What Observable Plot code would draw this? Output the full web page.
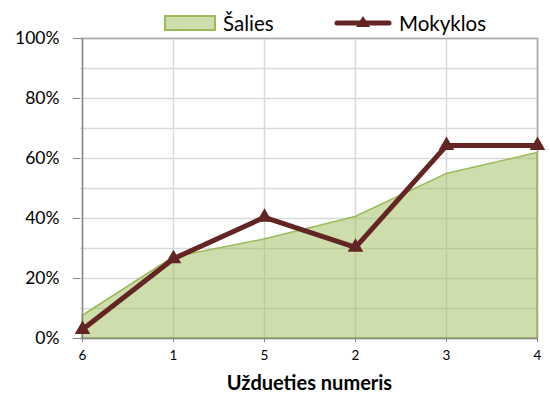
<!DOCTYPE html>
<html>
<head>
<meta charset="utf-8">
<script src="https://cdn.jsdelivr.net/npm/d3@7"></script>
<script src="https://cdn.jsdelivr.net/npm/@observablehq/plot@0.6"></script>
<style>
  html, body { margin: 0; padding: 0; background: #fff; }
  body { position: relative; width: 550px; height: 401px; overflow: hidden; font-family: Lato, "Open Sans", sans-serif; }
  #legend { position: absolute; left: 0; top: 8px; width: 550px; height: 30px; font-size: 20.5px; color: #000; z-index: 2; }
  #legend .item { position: absolute; top: 0; height: 30px; display: flex; align-items: center; }
  #legend svg { display: block; margin-right: 7px; }
  #chart { position: absolute; left: 0; top: 0; }
</style>
</head>
<body>
<div id="chart"></div>
<div id="legend"></div>
<script>
const tasks = ["6", "1", "5", "2", "3", "4"];
const salies = [0.075, 0.27, 0.33, 0.405, 0.548, 0.618];
const mokyklos = [0.03, 0.266, 0.404, 0.304, 0.643, 0.643];
const seriesNames = ["Šalies", "Mokyklos"];
const yTicks = [0, 0.2, 0.4, 0.6, 0.8, 1];
const yGrid = [0, 0.1, 0.2, 0.3, 0.4, 0.5, 0.6, 0.7, 0.8, 0.9, 1];
const xTitle = "Uždueties numeris";

const green = "#9bbb59";
const maroon = "#632523";

const data = tasks.map((t, i) => ({task: t, salies: salies[i], mokyklos: mokyklos[i]}));

// Legend (HTML)
const legend = document.getElementById("legend");
const it1 = document.createElement("div");
it1.className = "item"; it1.style.left = "164px";
it1.innerHTML = `<svg width="52" height="16"><rect x="1" y="1" width="50" height="14" fill="#cfdfac" stroke="${green}" stroke-width="2"/></svg><span>${seriesNames[0]}</span>`;
const it2 = document.createElement("div");
it2.className = "item"; it2.style.left = "334px";
it2.innerHTML = `<svg width="58" height="16"><line x1="3" x2="55" y1="8" y2="8" stroke="${maroon}" stroke-width="5" stroke-linecap="round"/><path d="M29,1 L36,12 L22,12 Z" fill="${maroon}"/></svg><span>${seriesNames[1]}</span>`;
legend.append(it1, it2);

const chart = Plot.plot({
  width: 550,
  height: 401,
  marginLeft: 80,
  marginRight: 12,
  marginTop: 38,
  marginBottom: 63,
  style: {fontFamily: "Lato, 'Open Sans', sans-serif", color: "#000", background: "#fff"},
  x: {type: "point", domain: tasks, padding: 0},
  y: {domain: [0, 1]},
  marks: [
    Plot.gridY(yGrid, {stroke: "#d9d9d9", strokeOpacity: 1, strokeWidth: 1.5}),
    Plot.gridX(tasks, {stroke: "#d9d9d9", strokeOpacity: 1, strokeWidth: 1.5}),
    Plot.ruleY([1], {stroke: "#a6a6a6", strokeWidth: 1.5}),
    Plot.ruleX([tasks[tasks.length - 1]], {stroke: "#a6a6a6", strokeWidth: 1.5}),
    Plot.areaY(data, {x: "task", y: "salies", fill: green, fillOpacity: 0.5, stroke: green, strokeWidth: 1.5}),
    Plot.ruleY([0], {stroke: "#868686", strokeWidth: 1.5}),
    Plot.ruleX([tasks[0]], {stroke: "#868686", strokeWidth: 1.5}),
    Plot.lineY(data, {x: "task", y: "mokyklos", stroke: maroon, strokeWidth: 5}),
    Plot.dot(data, {x: "task", y: "mokyklos", symbol: "triangle", r: 5.8, fill: maroon, stroke: "none"}),
    Plot.axisY(yTicks, {tickFormat: d3.format(".0%"), tickSize: 7, tickPadding: 14, fontSize: 17.5, stroke: "#868686", label: null}),
    Plot.axisX(tasks, {tickSize: 4, tickPadding: 8, fontSize: 13.5, stroke: "#868686", label: null}),
    Plot.text([xTitle], {frameAnchor: "bottom", dy: 51, fontSize: 20, fontWeight: "bold", fill: "#000", style: "letter-spacing:0.6px"})
  ]
});
document.getElementById("chart").append(chart);
</script>
</body>
</html>
